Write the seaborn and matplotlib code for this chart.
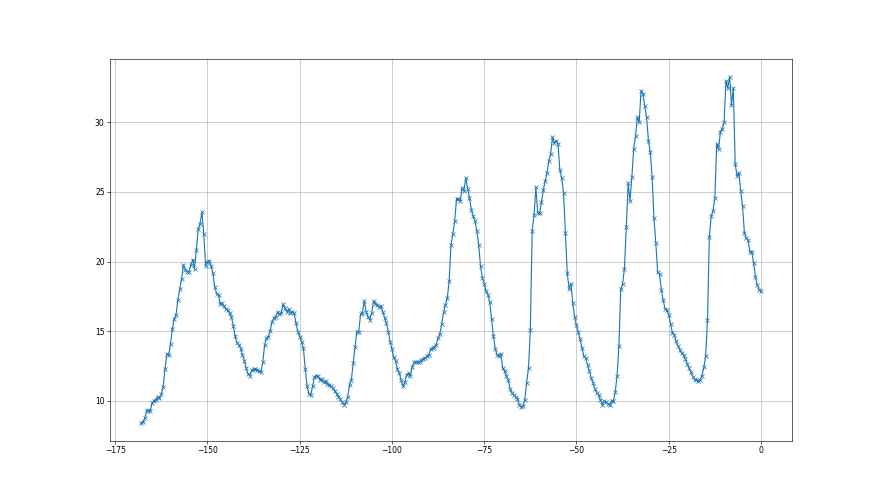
import numpy as np
import matplotlib
matplotlib.use("Agg")
import matplotlib.pyplot as plt
import seaborn as sns

# valores cada media hora, ultimas 168 horas (un dia por lista)
dia1 = [8.4, 8.5, 8.75, 9.25, 9.33, 9.25, 9.85, 10.0, 10.1, 10.3, 10.2, 10.5,
        11.0, 12.26, 13.37, 13.3, 14.1, 15.15, 15.87, 16.2, 17.25, 18.0, 18.75, 19.76,
        19.4, 19.28, 19.28, 19.76, 20.14, 19.47, 20.8, 22.3, 22.7, 23.55, 22.0, 19.7,
        20.0, 20.07, 19.66, 19.16, 18.15, 17.7, 17.6, 16.95, 17.0, 16.78, 16.6, 16.5]
dia2 = [16.3, 16.03, 15.4, 14.66, 14.18, 14.04, 13.75, 13.3, 12.9, 12.36, 11.95, 11.81,
        12.19, 12.29, 12.29, 12.24, 12.12, 12.07, 12.76, 14.02, 14.5, 14.62, 15.02, 15.69,
        15.93, 16.05, 16.4, 16.21, 16.29, 16.93, 16.64, 16.4, 16.57, 16.29, 16.4, 16.29,
        15.57, 14.98, 14.62, 14.26, 13.79, 12.31, 11.05, 10.5, 10.45, 11.05, 11.71, 11.81]
dia3 = [11.76, 11.52, 11.57, 11.33, 11.4, 11.24, 11.17, 11.05, 10.93, 10.69, 10.52, 10.29,
        10.14, 9.9, 9.74, 9.9, 10.26, 11.17, 11.52, 12.71, 13.9, 14.98, 14.98, 16.21,
        16.33, 17.17, 16.4, 16.05, 15.81, 16.29, 17.19, 16.95, 16.88, 16.76, 16.81, 16.4,
        15.98, 15.57, 14.98, 14.26, 13.71, 13.12, 12.84, 12.27, 12.0, 11.48, 11.05, 11.34]
dia4 = [11.89, 12.0, 11.82, 12.44, 12.78, 12.78, 12.78, 12.8, 12.92, 13.04, 13.09, 13.2,
        13.33, 13.73, 13.8, 13.88, 14.04, 14.52, 14.83, 15.55, 16.36, 16.91, 17.39, 18.59,
        21.22, 22.0, 22.9, 24.5, 24.5, 24.33, 25.29, 25.05, 26.0, 25.24, 24.57, 23.73,
        23.25, 22.9, 22.18, 21.22, 19.67, 18.83, 18.42, 17.87, 17.63, 17.08, 15.89, 14.64]
dia5 = [13.73, 13.33, 13.2, 13.4, 12.37, 12.13, 11.8, 11.53, 10.86, 10.57, 10.45, 10.29,
        10.14, 9.74, 9.57, 9.6, 10.1, 11.3, 12.37, 15.12, 22.22, 23.33, 25.32, 23.5,
        23.45, 24.24, 25.13, 25.75, 26.35, 27.2, 27.72, 28.92, 28.49, 28.68, 28.44, 26.57,
        25.99, 24.92, 22.04, 19.16, 18.06, 18.42, 17.0, 16.02, 15.42, 14.94, 14.41, 13.79]
dia6 = [13.21, 13.09, 12.61, 12.13, 11.65, 11.29, 10.86, 10.58, 10.46, 10.05, 9.74, 9.98,
        9.9, 9.81, 9.71, 9.98, 10.02, 10.62, 11.82, 13.93, 18.0, 18.42, 19.5, 22.45,
        25.63, 24.36, 26.04, 28.06, 29.0, 30.37, 30.03, 32.27, 32.02, 31.14, 30.35, 28.67,
        27.85, 26.04, 23.09, 21.31, 19.24, 19.12, 17.95, 17.23, 16.6, 16.55, 16.19, 15.55]
dia7 = [14.87, 14.75, 14.27, 13.96, 13.67, 13.43, 13.31, 13.0, 12.67, 12.35, 12.04, 11.75,
        11.55, 11.48, 11.45, 11.5, 11.8, 12.4, 13.19, 15.8, 21.77, 23.26, 23.62, 24.58,
        28.42, 28.06, 29.33, 29.54, 29.98, 32.97, 32.45, 33.26, 31.25, 32.45, 27.03, 26.14,
        26.38, 25.06, 23.98, 22.06, 21.7, 21.53, 20.7, 20.7, 19.9, 18.9, 18.3, 17.99, 17.87]

valores = np.array(dia1 + dia2 + dia3 + dia4 + dia5 + dia6 + dia7)
horas = np.arange(-336, 1) / 2.0

fig, ax = plt.subplots(figsize=(16, 9), dpi=55)

sns.lineplot(x=horas, y=valores, ax=ax, color='#1f77b4', marker='x',
             markersize=6, markeredgecolor='#1f77b4', markeredgewidth=1.0,
             linewidth=1.5)

ax.grid(True)
ax.set_xlabel('')
ax.set_ylabel('')

plt.savefig('out.png', dpi=55)
